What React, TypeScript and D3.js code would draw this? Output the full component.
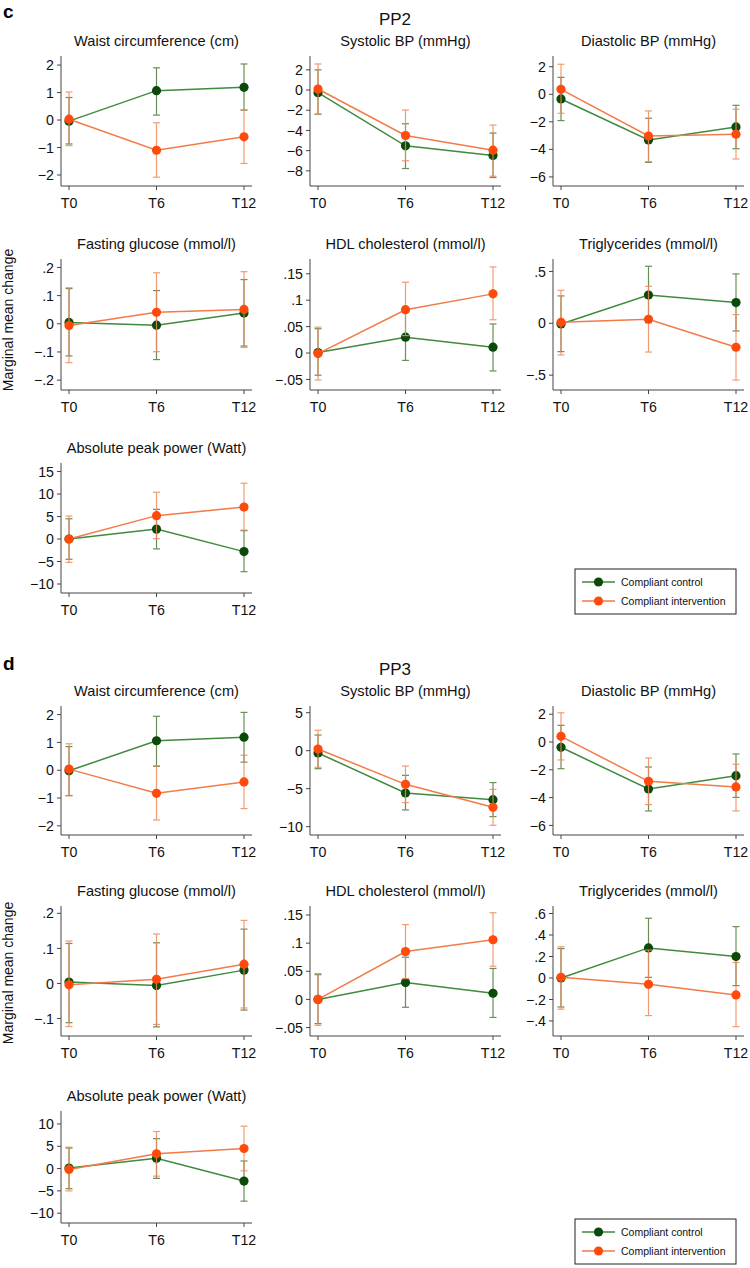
import React from "react";
import * as d3 from "d3";

const timepoints = ["T0", "T6", "T12"];
const groupNames = ["Compliant control", "Compliant intervention"];

// Each entry: [mean, lower CI, upper CI] at T0, T6, T12
// ---- PP2 (panel c)
const c_waist_ctrl = [[-0.04, -0.87, 0.82], [1.07, 0.18, 1.9], [1.19, 0.36, 2.04]];
const c_waist_int = [[0.03, -0.93, 1.02], [-1.1, -2.08, -0.1], [-0.61, -1.58, 0.37]];
const c_sys_ctrl = [[-0.26, -2.4, 2.0], [-5.52, -7.77, -3.34], [-6.48, -8.66, -4.26]];
const c_sys_int = [[0.1, -2.38, 2.58], [-4.5, -7.0, -1.98], [-5.95, -8.53, -3.47]];
const c_dia_ctrl = [[-0.34, -1.91, 1.23], [-3.32, -4.94, -1.74], [-2.37, -3.95, -0.8]];
const c_dia_int = [[0.36, -1.38, 2.18], [-3.03, -4.89, -1.21], [-2.9, -4.7, -1.09]];
const c_glu_ctrl = [[0.005, -0.114, 0.125], [-0.005, -0.127, 0.118], [0.038, -0.079, 0.157]];
const c_glu_int = [[-0.006, -0.138, 0.128], [0.041, -0.099, 0.181], [0.051, -0.084, 0.185]];
const c_hdl_ctrl = [[0.001, -0.042, 0.046], [0.03, -0.014, 0.077], [0.011, -0.034, 0.055]];
const c_hdl_int = [[-0.001, -0.051, 0.049], [0.082, 0.033, 0.134], [0.112, 0.063, 0.163]];
const c_tg_ctrl = [[-0.006, -0.273, 0.264], [0.273, 0.006, 0.55], [0.2, -0.074, 0.476]];
const c_tg_int = [[0.01, -0.305, 0.318], [0.039, -0.277, 0.357], [-0.231, -0.547, 0.084]];
const c_pow_ctrl = [[0.0, -4.5, 4.5], [2.2, -2.2, 6.6], [-2.8, -7.26, 1.85]];
const c_pow_int = [[0.0, -5.2, 5.1], [5.2, 0.07, 10.4], [7.1, 2.0, 12.4]];

// ---- PP3 (panel d)
const d_waist_ctrl = [[-0.02, -0.91, 0.85], [1.06, 0.14, 1.94], [1.19, 0.29, 2.08]];
const d_waist_int = [[0.04, -0.92, 0.95], [-0.83, -1.79, 0.16], [-0.42, -1.38, 0.54]];
const d_sys_ctrl = [[-0.3, -2.37, 2.06], [-5.57, -7.8, -3.25], [-6.45, -8.68, -4.2]];
const d_sys_int = [[0.22, -2.19, 2.68], [-4.43, -6.84, -2.02], [-7.46, -9.82, -5.09]];
const d_dia_ctrl = [[-0.38, -1.92, 1.2], [-3.38, -4.96, -1.8], [-2.42, -3.98, -0.86]];
const d_dia_int = [[0.41, -1.29, 2.1], [-2.83, -4.5, -1.15], [-3.23, -4.96, -1.6]];
const d_glu_ctrl = [[0.004, -0.112, 0.114], [-0.006, -0.124, 0.116], [0.038, -0.076, 0.155]];
const d_glu_int = [[-0.004, -0.123, 0.121], [0.012, -0.117, 0.141], [0.055, -0.07, 0.18]];
const d_hdl_ctrl = [[0.0, -0.043, 0.044], [0.03, -0.014, 0.075], [0.011, -0.032, 0.055]];
const d_hdl_int = [[0.0, -0.046, 0.046], [0.085, 0.037, 0.133], [0.106, 0.059, 0.154]];
const d_tg_ctrl = [[0.0, -0.27, 0.273], [0.28, 0.006, 0.556], [0.2, -0.071, 0.478]];
const d_tg_int = [[0.006, -0.29, 0.29], [-0.059, -0.35, 0.26], [-0.158, -0.453, 0.143]];
const d_pow_ctrl = [[0.1, -4.5, 4.6], [2.3, -2.2, 6.7], [-2.8, -7.3, 1.7]];
const d_pow_int = [[-0.2, -5.0, 4.8], [3.3, -1.7, 8.3], [4.5, -0.5, 9.5]];

// ---- tick values
const ticksWaist = [2, 1, 0, -1, -2];
const ticksSysC = [2, 0, -2, -4, -6, -8];
const ticksSysD = [5, 0, -5, -10];
const ticksDia = [2, 0, -2, -4, -6];
const ticksGluC = [0.2, 0.1, 0, -0.1, -0.2];
const ticksGluD = [0.2, 0.1, 0, -0.1];
const ticksHdl = [0.15, 0.1, 0.05, 0, -0.05];
const ticksTgC = [0.5, 0, -0.5];
const ticksTgD = [0.6, 0.4, 0.2, 0, -0.2, -0.4];
const ticksPowC = [15, 10, 5, 0, -5, -10];
const ticksPowD = [10, 5, 0, -5, -10];

const titles = [
  "Waist circumference (cm)",
  "Systolic BP (mmHg)",
  "Diastolic BP (mmHg)",
  "Fasting glucose (mmol/l)",
  "HDL cholesterol (mmol/l)",
  "Triglycerides (mmol/l)",
  "Absolute peak power (Watt)",
];

const FONT = "'Liberation Sans', Arial, Helvetica, sans-serif";
const COL_X = [61, 310, 553];
const CTRL_MARK = "#0b4a0b";
const CTRL_LINE = "#3f8a3f";
const CTRL_ERR = "#4f7d3a";
const INT_MARK = "#ff4a0c";
const INT_LINE = "#f27b48";
const INT_ERR = "#ef8a5c";
const AXIS = "#444";

type Row = number[][];
interface PanelDef {
  col: number;
  row: number;
  title: string;
  ticks: number[];
  domain: [number, number];
  ctrl: Row;
  int: Row;
}
interface FigDef {
  label: string;
  heading: string;
  headingY: number;
  labelY: number;
  rows: [number, number][];
  ylabelY: number;
  legendY: number;
  panels: PanelDef[];
}

const figures: FigDef[] = [
  {
    label: "c",
    heading: "PP2",
    headingY: 24.5,
    labelY: 18,
    rows: [[56, 186], [259, 390], [463, 593]],
    ylabelY: 320,
    legendY: 569,
    panels: [
      { col: 0, row: 0, title: titles[0], ticks: ticksWaist, domain: [-2.4, 2.33], ctrl: c_waist_ctrl, int: c_waist_int },
      { col: 1, row: 0, title: titles[1], ticks: ticksSysC, domain: [-9.5, 3.37], ctrl: c_sys_ctrl, int: c_sys_int },
      { col: 2, row: 0, title: titles[2], ticks: ticksDia, domain: [-6.66, 2.78], ctrl: c_dia_ctrl, int: c_dia_int },
      { col: 0, row: 1, title: titles[3], ticks: ticksGluC, domain: [-0.235, 0.23], ctrl: c_glu_ctrl, int: c_glu_int },
      { col: 1, row: 1, title: titles[4], ticks: ticksHdl, domain: [-0.07, 0.178], ctrl: c_hdl_ctrl, int: c_hdl_int },
      { col: 2, row: 1, title: titles[5], ticks: ticksTgC, domain: [-0.643, 0.62], ctrl: c_tg_ctrl, int: c_tg_int },
      { col: 0, row: 2, title: titles[6], ticks: ticksPowC, domain: [-12, 16.9], ctrl: c_pow_ctrl, int: c_pow_int },
    ],
  },
  {
    label: "d",
    heading: "PP3",
    headingY: 675,
    labelY: 670,
    rows: [[706, 835], [906, 1036], [1111, 1223]],
    ylabelY: 973,
    legendY: 1219,
    panels: [
      { col: 0, row: 0, title: titles[0], ticks: ticksWaist, domain: [-2.33, 2.31], ctrl: d_waist_ctrl, int: d_waist_int },
      { col: 1, row: 0, title: titles[1], ticks: ticksSysD, domain: [-11.1, 5.88], ctrl: d_sys_ctrl, int: d_sys_int },
      { col: 2, row: 0, title: titles[2], ticks: ticksDia, domain: [-6.69, 2.59], ctrl: d_dia_ctrl, int: d_dia_int },
      { col: 0, row: 1, title: titles[3], ticks: ticksGluD, domain: [-0.15, 0.221], ctrl: d_glu_ctrl, int: d_glu_int },
      { col: 1, row: 1, title: titles[4], ticks: ticksHdl, domain: [-0.065, 0.166], ctrl: d_hdl_ctrl, int: d_hdl_int },
      { col: 2, row: 1, title: titles[5], ticks: ticksTgD, domain: [-0.54, 0.67], ctrl: d_tg_ctrl, int: d_tg_int },
      { col: 0, row: 2, title: titles[6], ticks: ticksPowD, domain: [-12.2, 12.9], ctrl: d_pow_ctrl, int: d_pow_int },
    ],
  },
];

const fmt = (v: number) => {
  let s = String(Math.round(v * 1000) / 1000);
  s = s.replace(/^(-?)0\./, "$1.");
  return s.replace("-", "\u2212");
};

function Series({ data, x, y, mark, line, err }: { data: Row; x: d3.ScalePoint<string>; y: d3.ScaleLinear<number, number>; mark: string; line: string; err: string }) {
  const pts = data.map((d, i) => [x(timepoints[i]) as number, y(d[0])] as [number, number]);
  const path = d3.line()(pts) || "";
  return (
    <g>
      {data.map((d, i) => {
        const cx = x(timepoints[i]) as number;
        return (
          <g key={i} stroke={err} strokeWidth={1.2} opacity={0.85}>
            <line x1={cx} x2={cx} y1={y(d[1])} y2={y(d[2])} />
            <line x1={cx - 3.5} x2={cx + 3.5} y1={y(d[1])} y2={y(d[1])} />
            <line x1={cx - 3.5} x2={cx + 3.5} y1={y(d[2])} y2={y(d[2])} />
          </g>
        );
      })}
      <path d={path} fill="none" stroke={line} strokeWidth={1.5} />
      {pts.map((p, i) => (
        <circle key={i} cx={p[0]} cy={p[1]} r={4.6} fill={mark} />
      ))}
    </g>
  );
}

function Panel({ p, rows }: { p: PanelDef; rows: [number, number][] }) {
  const ax = COL_X[p.col];
  const [top, bottom] = rows[p.row];
  const x = d3.scalePoint<string>().domain(timepoints).range([ax + 8, ax + 183]);
  const y = d3.scaleLinear().domain(p.domain).range([bottom, top]);
  return (
    <g>
      <text x={ax + 95.5} y={top - 10.5} textAnchor="middle" fontSize={14.6} fill="#111">
        {p.title}
      </text>
      <line x1={ax} x2={ax} y1={top} y2={bottom} stroke={AXIS} strokeWidth={1} />
      <line x1={ax} x2={ax + 191} y1={bottom} y2={bottom} stroke={AXIS} strokeWidth={1} />
      {p.ticks.map((t) => (
        <g key={t}>
          <line x1={ax - 4} x2={ax} y1={y(t)} y2={y(t)} stroke={AXIS} />
          <text x={ax - 7} y={y(t)} dy="0.36em" textAnchor="end" fontSize={14.2} fill="#111">
            {fmt(t)}
          </text>
        </g>
      ))}
      {timepoints.map((t) => (
        <g key={t}>
          <line x1={x(t)} x2={x(t)} y1={bottom} y2={bottom + 4} stroke={AXIS} />
          <text x={x(t)} y={bottom + 22} textAnchor="middle" fontSize={14.2} fill="#111">
            {t}
          </text>
        </g>
      ))}
      <Series data={p.ctrl} x={x} y={y} mark={CTRL_MARK} line={CTRL_LINE} err={CTRL_ERR} />
      <Series data={p.int} x={x} y={y} mark={INT_MARK} line={INT_LINE} err={INT_ERR} />
    </g>
  );
}

function Legend({ y0 }: { y0: number }) {
  const items = [
    { name: groupNames[0], mark: CTRL_MARK, line: CTRL_LINE },
    { name: groupNames[1], mark: INT_MARK, line: INT_LINE },
  ];
  return (
    <g>
      <rect x={575} y={y0} width={161} height={45} fill="#fff" stroke="#222" strokeWidth={1} />
      {items.map((it, i) => {
        const cy = y0 + 13 + i * 19;
        return (
          <g key={it.name}>
            <line x1={582} x2={615} y1={cy} y2={cy} stroke={it.line} strokeWidth={1.5} />
            <circle cx={598.5} cy={cy} r={4.6} fill={it.mark} />
            <text x={621} y={cy} dy="0.35em" fontSize={10.5} fill="#111">
              {it.name}
            </text>
          </g>
        );
      })}
    </g>
  );
}

export default function App() {
  return (
    <svg
      width={750}
      height={1268}
      style={{ position: "absolute", left: 0, top: 0, display: "block", background: "#fff" }}
      fontFamily={FONT}
    >
      <rect width={750} height={1268} fill="#fff" />
      {figures.map((f) => (
        <g key={f.label}>
          <text x={3} y={f.labelY} fontSize={19} fontWeight="bold" fill="#000">
            {f.label}
          </text>
          <text x={395} y={f.headingY} textAnchor="middle" fontSize={17} fill="#111">
            {f.heading}
          </text>
          <text
            transform={`translate(13,${f.ylabelY}) rotate(-90)`}
            textAnchor="middle"
            fontSize={14}
            fill="#111"
          >
            Marginal mean change
          </text>
          {f.panels.map((p, i) => (
            <Panel key={i} p={p} rows={f.rows} />
          ))}
          <Legend y0={f.legendY} />
        </g>
      ))}
    </svg>
  );
}
